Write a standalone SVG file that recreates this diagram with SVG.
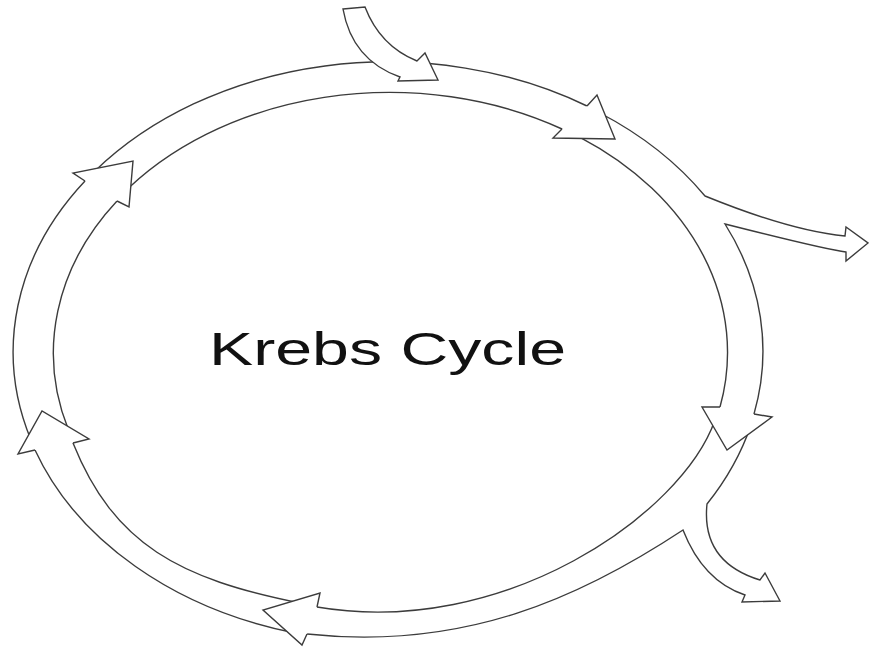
<svg xmlns="http://www.w3.org/2000/svg" width="869" height="648" viewBox="0 0 869 648">
<style>
.ln{fill:none;stroke:#3c3c3c;stroke-width:1.4;stroke-linejoin:miter;stroke-linecap:round}
.hd{fill:#ffffff;stroke:#3c3c3c;stroke-width:1.4;stroke-linejoin:miter}
.lbl{font-family:"Liberation Sans",Arial,sans-serif;font-size:46px;fill:#111111}
</style>
<rect width="869" height="648" fill="#ffffff"/>
<g id="connectors">
  <g id="ring-bodies">
    <path class="ln" d="M95,171 A375,290 0 0 1 587,106"/>
    <path class="ln" d="M120,196.5 A337,260 0 0 1 562,129"/>
    <path class="ln" d="M600,113 A375,290 0 0 1 705,196 Q791,231 845,236 L846,227 L868,243 L846,261 L846,252 Q826,249.6 725,224 A375,290 0 0 1 754,414"/>
    <path class="ln" d="M580,137.3 A337,260 0 0 1 720,407"/>
    <path class="ln" d="M751,425 A375,290 0 0 1 707,504 Q701,562 760,580 L765,573 L780,601 L742,602 L745,595 Q703,581 683,530 C583,596 466,651 307,634"/>
    <path class="ln" d="M715,420 C682,514 504,639 317,607"/>
    <path class="ln" d="M295,633 A375,290 0 0 1 35,450"/>
    <path class="ln" d="M300,603 C180,579 114,545 73,443"/>
    <path class="ln" d="M31,440 A375,290 0 0 1 85,181"/>
    <path class="ln" d="M68.5,430 A337,260 0 0 1 117,201"/>
  </g>
  <g id="ring-heads">
    <path class="hd" d="M562,129 L553,138 L615,139 L597,95 L587,106"/>
    <path class="hd" d="M720,407 L702,407 L727,450 L772,417 L754,414"/>
    <path class="hd" d="M317,607 L320,593 L263,610 L302,645 L307,634"/>
    <path class="hd" d="M73,443 L89,439 L42,411 L18,454 L35,450"/>
    <path class="hd" d="M117,201 L129,207 L133,161 L73,173 L85,181"/>
  </g>
  <path id="input-arrow" class="hd" d="M343,9 L365,7 Q380,46 417,61 L425,53 L438,80 L398,81 L400,77 Q352,60 343,9 Z"/>
</g>
<g id="node-krebs-cycle">
  <text class="lbl" x="209" y="365" textLength="357" lengthAdjust="spacingAndGlyphs">Krebs Cycle</text>
</g>
</svg>
